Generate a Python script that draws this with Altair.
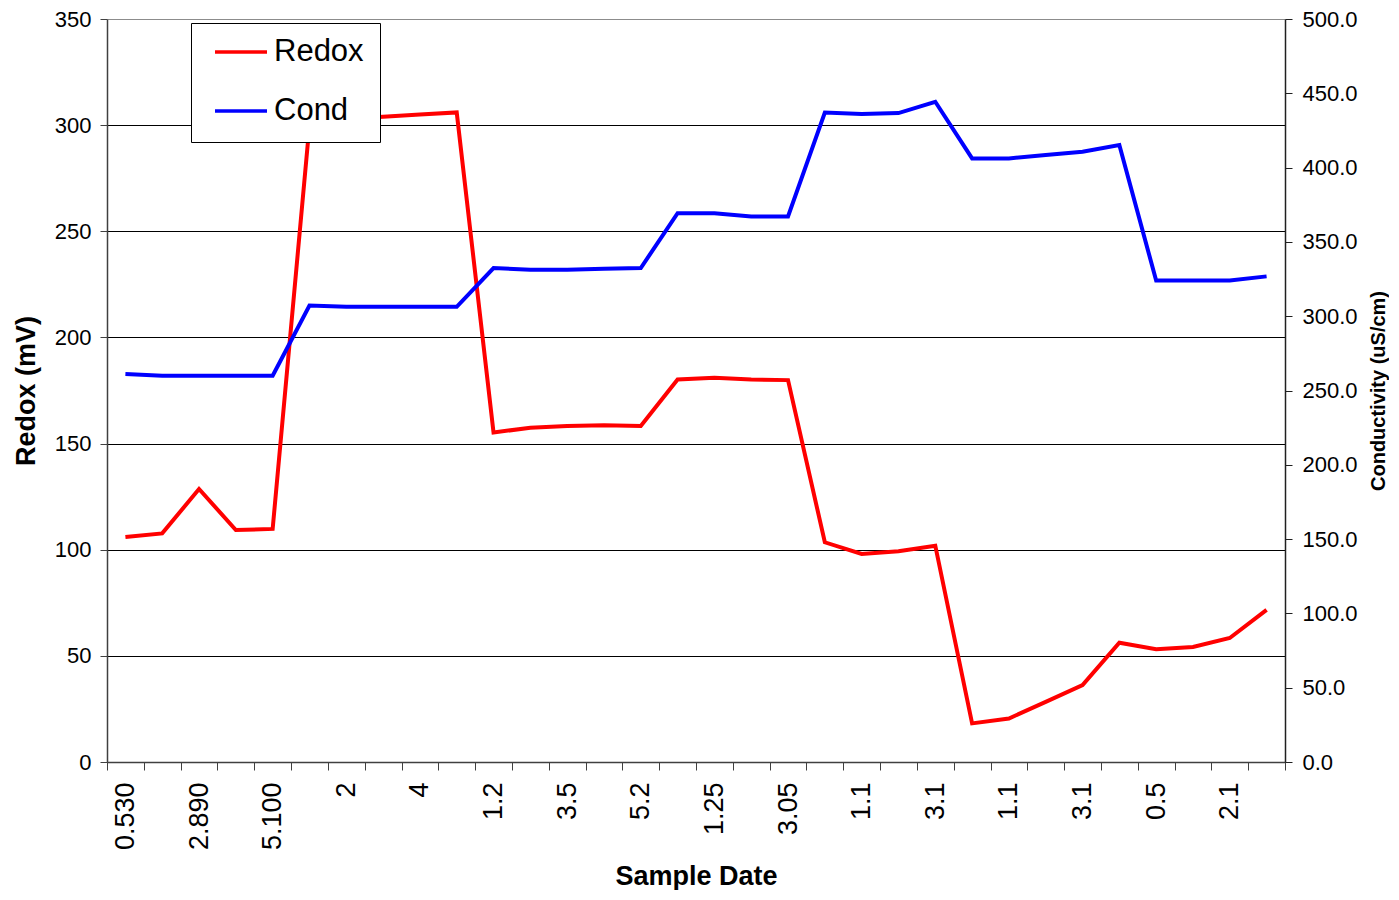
import json
import altair as alt
import pandas as pd

# --- data ---
tick_labels = ["0.530", "2.890", "5.100", "2", "4", "1.2", "3.5", "5.2",
               "1.25", "3.05", "1.1", "3.1", "1.1", "3.1", "0.5", "2.1"]
redox = [106.0, 107.7, 128.6, 109.3, 109.8, 300.0, 303.0, 304.0, 305.0, 306.0,
         155.2, 157.5, 158.3, 158.6, 158.3, 180.2, 181.0, 180.2, 179.9, 103.5,
         98.0, 99.3, 101.9, 18.2, 20.5, 28.3, 36.2, 56.2, 53.1, 54.2, 58.4, 71.7]
cond = [261.1, 260.0, 260.0, 260.0, 260.0, 307.2, 306.3, 306.3, 306.3, 306.3,
        332.4, 331.3, 331.3, 332.0, 332.4, 369.3, 369.3, 367.1, 367.1, 437.1,
        436.0, 436.7, 444.3, 406.2, 406.2, 408.5, 410.7, 415.2, 324.0, 324.0, 324.0, 326.8]

n = len(redox)
idx = list(range(n))
redox_df = pd.DataFrame({"idx": idx, "value": redox, "series": "Redox"})
cond_df = pd.DataFrame({"idx": idx, "value": cond, "series": "Cond"})

# category labels: every other category labelled (Excel style)
cat_labels = [tick_labels[i // 2] if i % 2 == 0 else "" for i in range(n)] + [""]
bounds = [i - 0.5 for i in range(n + 1)]
label_expr = json.dumps(cat_labels) + "[round(datum.value + 0.5)]"

FONT = "Liberation Sans"

color = alt.Color(
    "series:N",
    scale=alt.Scale(domain=["Redox", "Cond"], range=["#ff0000", "#0000ff"]),
    legend=alt.Legend(
        orient="none", legendX=84, legendY=4, title=None,
        symbolType="stroke", symbolSize=2704, symbolStrokeWidth=3.5,
        clipHeight=26, rowPadding=28, padding=16, symbolOffset=6,
        labelOffset=5, labelFontSize=31, labelFont=FONT, labelColor="black",
        fillColor="white", strokeColor="black",
    ),
)

x_enc = alt.X(
    "idx:Q",
    scale=alt.Scale(domain=[-0.5, n - 0.5], nice=False, zero=False),
    axis=alt.Axis(
        values=bounds, labelExpr=label_expr, labelAngle=270, labelOffset=18.4,
        labelOverlap=False, labelFlush=False, labelFontSize=27, labelPadding=12,
        tickSize=8, tickColor="#404040", domainColor="#404040", domainWidth=1.5,
        grid=False, title="Sample Date", titleFontSize=27, titleFontWeight="bold",
        titlePadding=14,
    ),
)

redox_line = alt.Chart(redox_df).mark_line(strokeWidth=4).encode(
    x=x_enc,
    y=alt.Y(
        "value:Q",
        scale=alt.Scale(domain=[0, 350], nice=False),
        axis=alt.Axis(
            orient="left", values=list(range(0, 351, 50)), format="d",
            labelFontSize=22, labelPadding=9, tickSize=7, tickColor="#404040",
            domainColor="#404040", domainWidth=1.5,
            grid=True, gridWidth=1,
            gridColor={"condition": {"test": "datum.value === 350", "value": "#8c8c8c"},
                       "value": "#000000"},
            title="Redox (mV)", titleFontSize=27, titleFontWeight="bold", titlePadding=14,
        ),
    ),
    color=color,
)

cond_line = alt.Chart(cond_df).mark_line(strokeWidth=4).encode(
    x=x_enc,
    y=alt.Y(
        "value:Q",
        scale=alt.Scale(domain=[0, 500], nice=False),
        axis=alt.Axis(
            orient="right", values=list(range(0, 501, 50)), format=".1f",
            labelFontSize=22, labelPadding=10, tickSize=7, tickColor="#202020",
            domainColor="#202020", domainWidth=1.5, grid=False,
            title="Conductivity (uS/cm)", titleFontSize=20, titleFontWeight="bold",
            titleAngle=270, titlePadding=31,
        ),
    ),
    color=color,
)

chart = (
    alt.layer(redox_line, cond_line)
    .resolve_scale(y="independent")
    .properties(
        width=1178, height=743, autosize="none",
        padding={"left": 99, "top": 11, "right": 104, "bottom": 128},
        background="white",
    )
    .configure(font=FONT)
    .configure_axis(labelColor="black", titleColor="black", labelFont=FONT, titleFont=FONT)
    .configure_legend(strokeWidth=1)
    .configure_view(strokeWidth=0)
)

chart.save("out.html", embed_options={"renderer": "svg", "actions": False})
